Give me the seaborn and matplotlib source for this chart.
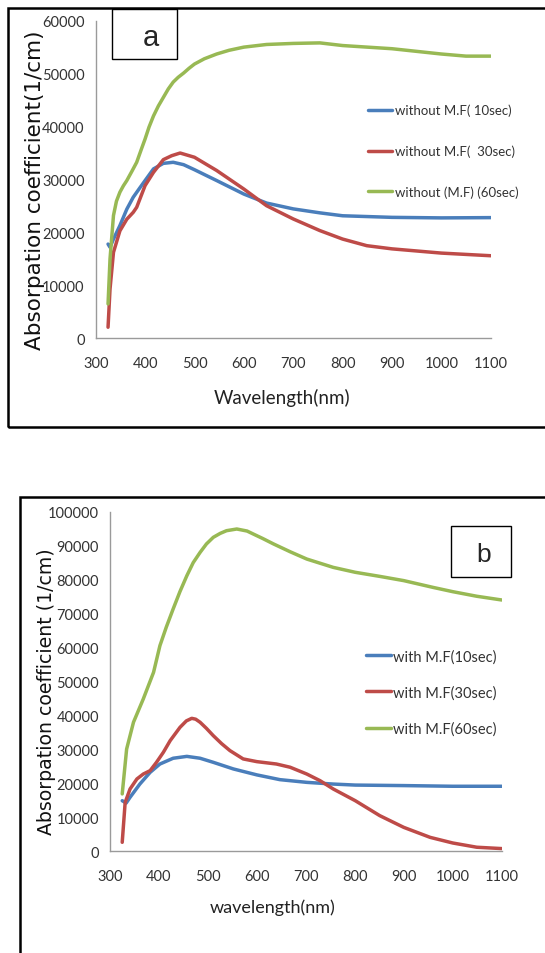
import numpy as np
import pandas as pd
import matplotlib
matplotlib.use('Agg')
import matplotlib.pyplot as plt
import seaborn as sns
from matplotlib.patches import Rectangle
from matplotlib import font_manager

# ---- panel a : without magnetic field ----
wl_a_10 = [325, 329, 336, 349, 363, 376, 390, 400, 417, 437, 457, 478, 500, 545, 600, 646, 700, 754, 800, 900, 1000, 1100]
abs_a_10 = [17800, 17200, 18750, 21300, 24400, 26650, 28500, 29800, 32000, 33050, 33250, 32800, 31850, 29800, 27250,
            25550, 24450, 23700, 23150, 22850, 22750, 22800]

wl_a_30 = [325, 329, 336, 349, 363, 376, 383, 400, 417, 437, 454, 471, 500, 545, 600, 646, 700, 754, 800, 849, 900, 1000, 1100]
abs_a_30 = [2100, 9300, 16250, 20300, 22500, 23800, 24750, 28850, 31350, 33750, 34500, 35000, 34200, 31700, 28200,
            25050, 22550, 20350, 18750, 17500, 16900, 16100, 15600]

wl_a_60 = [325, 329, 336, 342, 349, 356, 363, 373, 383, 392, 400, 408, 417, 427, 437, 447, 457, 467, 478, 489, 500,
           520, 545, 570, 600, 646, 700, 754, 800, 850, 900, 950, 1000, 1050, 1100]
abs_a_60 = [6500, 15000, 23200, 25900, 27600, 28800, 29800, 31500, 33250, 35600, 37650, 39900, 42000, 43900, 45500,
            47100, 48400, 49300, 50100, 51000, 51800, 52800, 53700, 54400, 55000, 55500, 55700, 55800, 55300, 55000,
            54700, 54200, 53700, 53300, 53300]

labels_a = ['without M.F( 10sec)', 'without M.F(  30sec)', 'without (M.F) (60sec)']

# ---- panel b : with magnetic field ----
wl_b_10 = [325, 333, 341, 361, 382, 402, 429, 457, 484, 511, 552, 600, 647, 702, 756, 801, 900, 1000, 1100]
abs_b_10 = [14900, 14200, 15900, 19800, 23250, 25700, 27400, 27950, 27400, 26200, 24250, 22500, 21100, 20300,
            19800, 19500, 19350, 19150, 19150]

wl_b_30 = [325, 331, 341, 355, 368, 382, 395, 409, 423, 443, 456, 467, 475, 484, 497, 511, 528, 545, 572, 600, 640,
           668, 702, 729, 756, 801, 851, 900, 954, 1000, 1049, 1100]
abs_b_30 = [2650, 14400, 18350, 21300, 22750, 23750, 26200, 29150, 32600, 36500, 38400, 39150, 38900, 38000, 36200,
            34050, 31700, 29650, 27200, 26400, 25700, 24750, 22750, 20800, 18350, 14900, 10500, 7050, 4100, 2450,
            1200, 800]

wl_b_60 = [325, 334, 348, 368, 389, 402, 415, 429, 443, 457, 470, 484, 497, 511, 525, 538, 559, 580, 593, 612, 634,
           668, 702, 756, 801, 851, 900, 960, 1000, 1049, 1100]
abs_b_60 = [16900, 30100, 38000, 44850, 52700, 60550, 66000, 71350, 76500, 81150, 85000, 88000, 90500, 92450, 93600,
            94400, 94900, 94300, 93400, 92100, 90500, 88200, 86050, 83600, 82150, 80950, 79700, 77700, 76450, 75100,
            74000]

labels_b = ['with M.F(10sec)', 'with M.F(30sec)', 'with M.F(60sec)']

colors = ['#4A7EBB', '#BE4B48', '#98B954']

sns.set_theme(style='white')
installed = {f.name for f in font_manager.fontManager.ttflist}
narrow = 'Liberation Sans Narrow' if 'Liberation Sans Narrow' in installed else 'Lato'
plt.rcParams['font.family'] = [narrow, 'DejaVu Sans']

fig = plt.figure(figsize=(5.45, 9.54), dpi=100)
ax_a = fig.add_axes([0.1756, 0.6443, 0.7248, 0.3330])
ax_b = fig.add_axes([0.2018, 0.1066, 0.7187, 0.3560])


def draw_panel(ax, series, labels, ymax, ystep):
    for (wl, val), lab, c in zip(series, labels, colors):
        df = pd.DataFrame({'wl': wl, 'val': val})
        sns.lineplot(data=df, x='wl', y='val', ax=ax, color=c, lw=2.5, label=lab)
    ax.set_xlim(300, 1100)
    ax.set_ylim(0, ymax)
    ax.set_xticks(np.arange(300, 1101, 100))
    ax.set_yticks(np.arange(0, ymax + 1, ystep))
    for s in ['top', 'right']:
        ax.spines[s].set_visible(False)
    for s in ['left', 'bottom']:
        ax.spines[s].set_color('#9a9a9a')
        ax.spines[s].set_linewidth(1.0)
    ax.tick_params(axis='both', which='major', direction='out', length=5, width=1,
                   color='#9a9a9a', labelcolor='#333333', labelsize=10.5, pad=3)
    ax.tick_params(axis='x', pad=8)


draw_panel(ax_a, [(wl_a_10, abs_a_10), (wl_a_30, abs_a_30), (wl_a_60, abs_a_60)], labels_a, 60000, 10000)
draw_panel(ax_b, [(wl_b_10, abs_b_10), (wl_b_30, abs_b_30), (wl_b_60, abs_b_60)], labels_b, 100000, 10000)

# axis labels
ax_a.set_xlabel('Wavelength(nm)', fontsize=13.5, color='#222222')
ax_a.xaxis.set_label_coords(0.472, -0.185)
ax_a.xaxis.label.set_va('center')
ax_a.set_ylabel('Absorpation coefficient(1/cm)', fontsize=15.5, family='DejaVu Sans', color='#111111')
ax_a.yaxis.set_label_coords(-0.154, 0.4685)
ax_a.yaxis.label.set_va('center')

ax_b.set_xlabel('wavelength(nm)', fontsize=13, color='#222222')
ax_b.xaxis.set_label_coords(0.416, -0.164)
ax_b.xaxis.label.set_va('center')
ax_b.set_ylabel('Absorpation coefficient (1/cm)', fontsize=13.6, family='DejaVu Sans', color='#111111')
ax_b.yaxis.set_label_coords(-0.1616, 0.473)
ax_b.yaxis.label.set_va('center')

# legends
ax_a.legend(loc='center left', bbox_to_anchor=(0.689, 0.590), frameon=False, fontsize=9.5,
            handlelength=1.8, handletextpad=0.25, labelspacing=2.15, borderpad=0, borderaxespad=0,
            labelcolor='#333333')
ax_b.legend(loc='center left', bbox_to_anchor=(0.653, 0.468), frameon=False, fontsize=10.5,
            handlelength=1.7, handletextpad=0.2, labelspacing=1.5, borderpad=0, borderaxespad=0,
            labelcolor='#333333')

# panel frames (figure pixel coords converted to fractions)
W, H = 545.0, 954.0
fig.patches.append(Rectangle((8 / W, (H - 428) / H), 1.0, 419 / H, transform=fig.transFigure,
                             fill=False, ec='black', lw=1.8))
fig.patches.append(Rectangle((20 / W, -0.05), 1.0, (H - 498) / H + 0.05, transform=fig.transFigure,
                             fill=False, ec='black', lw=1.8))

# panel letter boxes
fig.patches.append(Rectangle((112 / W, (H - 60) / H), 65 / W, 50 / H, transform=fig.transFigure,
                             fill=False, ec='black', lw=1.0))
fig.text(151 / W, (H - 38) / H, 'a', fontsize=21, family='Liberation Sans', ha='center', va='center')
fig.patches.append(Rectangle((451 / W, (H - 578) / H), 60 / W, 51 / H, transform=fig.transFigure,
                             fill=False, ec='black', lw=1.0))
fig.text(484 / W, (H - 555) / H, 'b', fontsize=19, family='Liberation Sans', ha='center', va='center')

fig.savefig('out.png', dpi=100)
